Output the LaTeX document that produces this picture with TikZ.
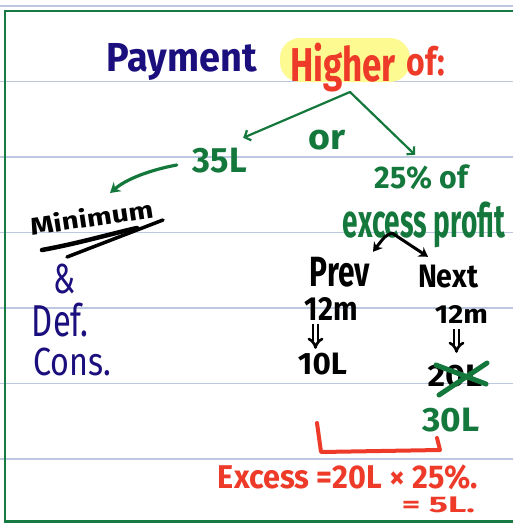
\documentclass[tikz,border=0pt]{standalone}
\usepackage{fontspec}
\setmainfont{Fira Sans}
\usetikzlibrary{arrows.meta}
\definecolor{navy}{RGB}{27,14,125}
\definecolor{hred}{RGB}{238,58,40}
\definecolor{hgreen}{RGB}{20,120,60}
\definecolor{bgreen}{RGB}{22,122,66}
\definecolor{rulecol}{RGB}{188,200,224}
\definecolor{hyel}{RGB}{252,250,145}
\newcommand\hw[3]{\resizebox*{#1pt}{#2pt}{\bfseries #3}}
\newcommand\hl[3]{\resizebox*{#1pt}{#2pt}{\fontseries{m}\selectfont #3}}
\begin{document}
\begin{tikzpicture}[x=1pt,y=-1pt,
  txt/.style={inner sep=0pt, anchor=center},
  garrow/.style={draw=hgreen, line width=2.2pt, line cap=round, line join=round, -{Straight Barb[length=5pt,width=11pt]}},
  garrowb/.style={draw=hgreen, line width=3.2pt, line cap=round, -{Stealth[length=10pt,width=12pt]}},
  barrow/.style={draw=black, line width=3pt, line cap=round, -{Stealth[length=9pt,width=11pt]}},
  dblarrow/.style={draw=black, double=white, double distance=2.4pt, line width=2.6pt, -{Implies[length=6pt]}},
  rulestyle/.style={draw=rulecol, line width=1.3pt},
  redline/.style={draw=hred, line width=4pt, line cap=round, line join=round},
  xstroke/.style={draw=hgreen, line width=5pt, line cap=round},
  understroke/.style={draw=black, line width=4.5pt, line cap=round}]
\useasboundingbox (0,0) rectangle (513,523);
\fill[white] (0,0) rectangle (513,523);
\foreach \yy in {6,81.5,157,232.7,308,383.5,459} \draw[rulestyle] (0,\yy) -- (513,\yy);
\draw[bgreen, line width=2.6pt] (516,11) -- (5,11) -- (5,521.3) -- (516,521.3);
\fill[hyel, rounded corners=20pt] (280,38) rectangle (410,82);
% texts
\node[txt, text=navy] (pay) at (182,61.5) {\hw{150}{37}{Payment}};
\node[txt, text=hred] (hig) at (343,67.5) {\hw{106}{49}{Higher}};
\node[txt, text=hred] (of) at (426,61) {\hw{38}{30}{of:}};
\node[txt, text=hgreen] (or) at (327.5,140) {\hw{37}{20}{or}};
\node[txt, text=hgreen] (l35) at (220,160.5) {\hw{54}{25}{35L}};
\node[txt, text=hgreen] (p25) at (421.5,177.5) {\hw{93}{25}{25\% of}};
\node[txt, text=hgreen] (exc) at (424,225) {\hw{162}{46}{excess profit}};
\node[txt, rotate=8.5] (min) at (91.5,217) {\hw{124}{20}{Minimum}};
\node[txt, text=navy] (amp) at (65,278.5) {\hl{22}{30}{\&}};
\node[txt, text=navy] (def) at (60,320) {\hl{56}{34}{Def.}};
\node[txt, text=navy] (cons) at (72.5,362) {\hl{78}{28}{Cons.}};
\node[txt] (prev) at (340,272) {\hw{60}{30}{Prev}};
\node[txt] (next) at (448,276.5) {\hw{60}{23}{Next}};
\node[txt] (m12a) at (331.5,308.5) {\hw{53}{23}{12m}};
\node[txt] (m12b) at (461.5,314) {\hw{53}{18}{12m}};
\node[txt] (l10) at (322.5,364) {\hw{49}{22}{10L}};
\node[txt] (l20) at (455,376) {\hw{55}{22}{20L}};
\node[txt, text=hgreen] (l30) at (451,420) {\hw{57}{24}{30L}};
\node[txt, text=hred] (exs) at (348,477.5) {\hw{260}{25}{Excess =20L × 25\%.}};
\node[txt, text=hred] (res) at (438.5,505) {\hw{73}{16}{= 5L.}};
% green arrows from "Higher of"
\coordinate (apex) at (350,92);
\draw[garrow] (apex) -- ([shift={(-4,-10)}]l35.north east);
\draw[garrow] (apex) -- ([shift={(-6.5,-10)}]p25.north);
\coordinate (minarr) at (110,193);
\draw[garrowb] ([shift={(-16,4.5)}]l35.west) .. controls (160,168) and (130,176) .. (minarr);
% underline of Minimum
\draw[understroke] (42,250) .. controls (80,243) and (110,234) .. (137,228);
\draw[understroke, line width=3.5pt] (67,257) -- (163,220);
% black arrows under excess profit
\coordinate (bapex) at (392,233);
\draw[barrow] (bapex) .. controls (385,236) .. ([shift={(33,-5)}]prev.north);
\draw[barrow] (bapex) -- ([shift={(-20,-8)}]next.north);
% double arrows 12m -> value
\draw[dblarrow] ([shift={(-16,4)}]m12a.south) -- ([shift={(-7,-4)}]l10.north);
\draw[dblarrow] ([shift={(-5,6)}]m12b.south) -- ([shift={(1.5,-12)}]l20.north);
% cross over 20L
\draw[xstroke] ([shift={(-19,-11)}]l20.center) -- ([shift={(31,8)}]l20.center);
\draw[xstroke] ([shift={(-16,19)}]l20.center) -- ([shift={(32,-13)}]l20.center);
% red bracket
\coordinate (b1) at (317,423);
\coordinate (b2) at (321,452);
\coordinate (b3) at (440,450);
\coordinate (b4) at (437,438);
\draw[redline] (b1) -- (b2) -- (b3) -- (b4);
\end{tikzpicture}
\end{document}
